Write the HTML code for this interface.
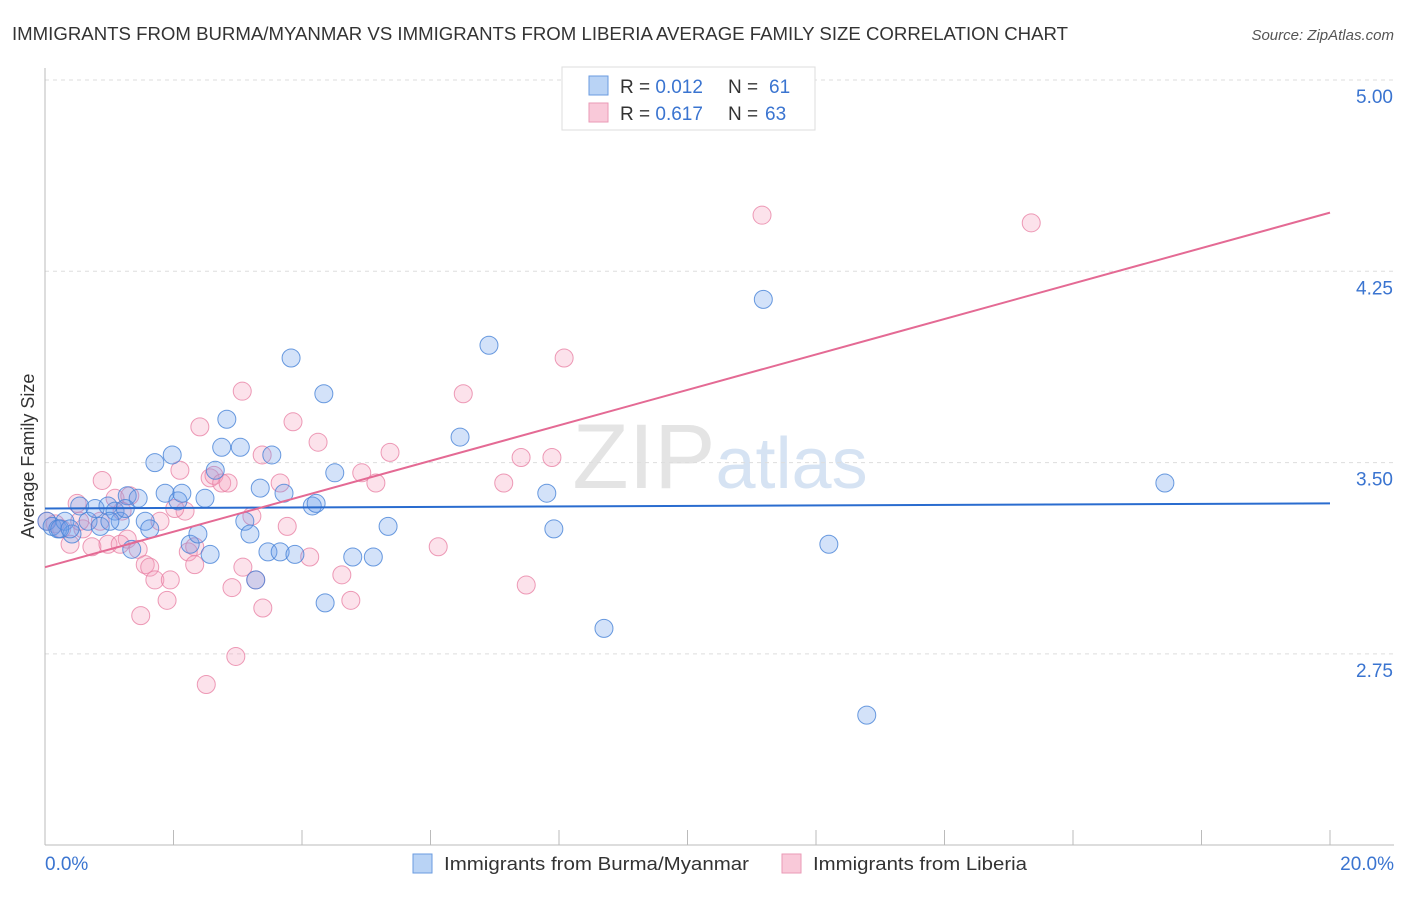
<!DOCTYPE html>
<html><head><meta charset="utf-8"><style>
body{margin:0;background:#fff;font-family:"Liberation Sans",sans-serif;}
svg text{font-family:"Liberation Sans",sans-serif;}
</style></head><body>
<svg id="chart" width="1406" height="892">
<text x="12" y="40" font-size="18" fill="#333" textLength="1056" lengthAdjust="spacingAndGlyphs">IMMIGRANTS FROM BURMA/MYANMAR VS IMMIGRANTS FROM LIBERIA AVERAGE FAMILY SIZE CORRELATION CHART</text>
<text x="1394" y="40" font-size="15" fill="#555" font-style="italic" text-anchor="end">Source: ZipAtlas.com</text>
<text x="720" y="488" font-size="92" fill="#e4e4e4" text-anchor="middle" font-family="Liberation Serif">ZIP<tspan fill="#d6e3f3" font-family="Liberation Sans" font-size="72">atlas</tspan></text>
<g id="grid"></g>
<g id="axes"></g>
<g id="marks"></g>
<text transform="translate(34,456) rotate(-90)" font-size="18" fill="#333" text-anchor="middle">Average Family Size</text>
<g>
<rect x="562" y="67" width="253" height="63" fill="#fff" stroke="#ddd"/>
<rect x="589" y="76" width="19" height="19" fill="#b9d3f5" stroke="#6a9be0"/>
<rect x="589" y="103" width="19" height="19" fill="#f9c9d9" stroke="#ea9ab6"/>
<text x="620" y="93" font-size="19" fill="#333">R = <tspan fill="#3a74d0">0.012</tspan></text>
<text x="728" y="93" font-size="19" fill="#333">N = <tspan x="769" fill="#3a74d0">61</tspan></text>
<text x="620" y="120" font-size="19" fill="#333">R = <tspan fill="#3a74d0">0.617</tspan></text>
<text x="728" y="120" font-size="19" fill="#333">N = <tspan x="765" fill="#3a74d0">63</tspan></text>
</g>
<g>
<rect x="413" y="854" width="19" height="19" fill="#b9d3f5" stroke="#6a9be0"/>
<text x="444" y="870" font-size="18" fill="#333" textLength="305" lengthAdjust="spacingAndGlyphs">Immigrants from Burma/Myanmar</text>
<rect x="782" y="854" width="19" height="19" fill="#f9c9d9" stroke="#ea9ab6"/>
<text x="813" y="870" font-size="18" fill="#333" textLength="214" lengthAdjust="spacingAndGlyphs">Immigrants from Liberia</text>
</g>
</svg>
<script>
const yTicks=[5.00,4.25,3.50,2.75];
const yTickLabels=["5.00","4.25","3.50","2.75"];
const xTickLabels=["0.0%","20.0%"];
const blueX=[0.03,0.11,0.20,0.31,0.42,0.54,0.67,0.78,0.86,0.98,1.09,1.17,1.28,1.35,1.45,1.56,1.63,1.71,1.87,1.98,2.07,2.13,2.26,2.38,2.49,2.57,2.65,2.75,2.83,3.04,3.11,3.19,3.28,3.35,3.47,3.53,3.66,3.72,3.83,3.89,4.16,4.22,4.34,4.36,4.51,4.79,5.11,5.34,6.46,6.91,7.81,7.92,8.70,11.18,12.20,12.79,17.43,0.23,0.39,1.01,1.25];
const blueY=[3.27,3.25,3.24,3.27,3.22,3.33,3.27,3.32,3.25,3.33,3.31,3.27,3.37,3.16,3.36,3.27,3.24,3.50,3.38,3.53,3.35,3.38,3.18,3.22,3.36,3.14,3.47,3.56,3.67,3.56,3.27,3.22,3.04,3.40,3.15,3.53,3.15,3.38,3.91,3.14,3.33,3.34,3.77,2.95,3.46,3.13,3.13,3.25,3.60,3.96,3.38,3.24,2.85,4.14,3.18,2.51,3.42,3.24,3.24,3.27,3.32];
const pinkX=[0.03,0.16,0.26,0.39,0.50,0.59,0.73,0.89,0.98,1.09,1.20,1.28,1.45,1.56,1.63,1.71,1.49,1.90,1.95,2.10,2.18,2.23,2.33,2.41,2.51,2.57,2.63,2.75,2.85,2.97,3.07,3.08,3.22,3.28,3.39,3.38,3.66,3.77,3.86,4.12,4.25,4.62,4.76,4.93,5.15,5.37,6.12,6.51,7.14,7.41,7.49,7.89,8.08,11.16,15.35,0.54,0.86,1.32,2.02,1.17,1.79,2.91,2.33];
const pinkY=[3.27,3.26,3.24,3.18,3.34,3.24,3.17,3.43,3.18,3.36,3.31,3.20,3.16,3.10,3.09,3.04,2.90,2.96,3.04,3.47,3.31,3.15,3.10,3.64,2.63,3.44,3.45,3.42,3.42,2.74,3.78,3.09,3.29,3.04,2.93,3.53,3.42,3.25,3.66,3.13,3.58,3.06,2.96,3.46,3.42,3.54,3.17,3.77,3.42,3.52,3.02,3.52,3.91,4.47,4.44,3.27,3.27,3.37,3.32,3.18,3.27,3.01,3.17];
const blueTrend=[3.32,3.34];
const pinkTrend=[3.09,4.48];
const trendX=[0,20];
const NS="http://www.w3.org/2000/svg";
const xs=v=>45+v/20*1285;
const ys=v=>80+(5-v)/0.75*191.3;
function mk(tag,attrs,parent){const e=document.createElementNS(NS,tag);for(const k in attrs)e.setAttribute(k,attrs[k]);parent.appendChild(e);return e;}
const grid=document.getElementById('grid'),axes=document.getElementById('axes'),marks=document.getElementById('marks');
yTicks.forEach((t,i)=>{
 const l=mk('line',{x1:45,x2:1394,y1:ys(t),y2:ys(t),stroke:'#ddd','stroke-dasharray':'4,4'},grid);
 
 
 const tx=mk('text',{x:1393,y:ys(t)+23,'font-size':19,fill:'#3a74d0','text-anchor':'end'},axes);
 tx.textContent=yTickLabels[i];
 
 
});
const ya=mk('line',{x1:45,x2:45,y1:68,y2:845,stroke:'#bbb'},axes);


const xa=mk('line',{x1:45,x2:1394,y1:845,y2:845,stroke:'#bbb'},axes);


for(let i=0;i<=10;i++){const t=mk('line',{x1:xs(i*2),x2:xs(i*2),y1:830,y2:845,stroke:'#bbb'},axes);
 
 }
[[0,'start',45],[20,'end',1394]].forEach((d,i)=>{const t=mk('text',{x:d[2],y:870,'font-size':19,fill:'#3a74d0','text-anchor':d[1]},axes);t.textContent=xTickLabels[i];
 
 });
function pts(X,Y,fill,stroke,name){X.forEach((x,i)=>{const c=mk('circle',{cx:xs(x),cy:ys(Y[i]),r:9,fill:fill,stroke:stroke,'stroke-width':1},marks);
 
 });}
pts(pinkX,pinkY,'rgba(244,160,190,0.3)','rgba(232,130,165,0.8)','liberia-point');
pts(blueX,blueY,'rgba(110,160,235,0.3)','rgba(70,130,215,0.8)','burma-point');
const bl=mk('line',{x1:xs(trendX[0]),x2:xs(trendX[1]),y1:ys(blueTrend[0]),y2:ys(blueTrend[1]),stroke:'#2a6ccf','stroke-width':2},marks);


const pl=mk('line',{x1:xs(trendX[0]),x2:xs(trendX[1]),y1:ys(pinkTrend[0]),y2:ys(pinkTrend[1]),stroke:'#e46a94','stroke-width':2},marks);


</script>
</body></html>
